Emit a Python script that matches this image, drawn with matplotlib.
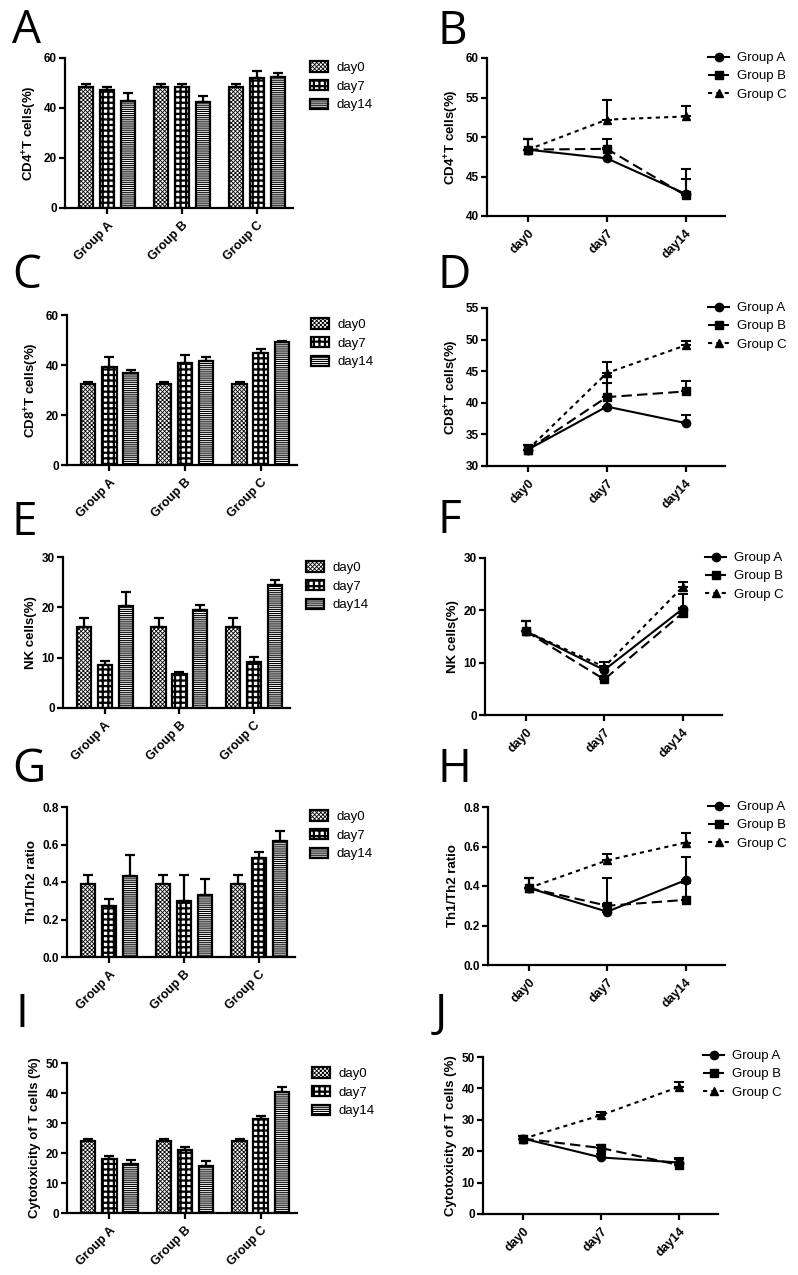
import matplotlib
matplotlib.use("Agg")
from matplotlib import pyplot as plt
import numpy as np

plt.rcParams['font.family'] = ['Liberation Sans', 'DejaVu Sans']
plt.rcParams['mathtext.fontset'] = 'custom'
plt.rcParams['mathtext.bf'] = 'Liberation Sans:bold'
plt.rcParams['mathtext.rm'] = 'Liberation Sans:bold'
plt.rcParams['hatch.linewidth'] = 0.8

groups = ['Group A', 'Group B', 'Group C']
days = ['day0', 'day7', 'day14']

# rows = group A, B, C ; columns = day0, day7, day14
cd4_mean = [[48.4, 47.3, 42.8], [48.4, 48.5, 42.6], [48.4, 52.2, 52.6]]
cd4_err = [[1.4, 1.3, 3.1], [1.4, 1.2, 2.1], [1.4, 2.5, 1.3]]

cd8_mean = [[32.6, 39.4, 36.8], [32.6, 40.9, 41.8], [32.6, 44.7, 49.1]]
cd8_err = [[0.8, 3.8, 1.3], [0.8, 3.3, 1.6], [0.8, 1.8, 0.7]]

nk_mean = [[16.0, 8.6, 20.3], [16.0, 6.8, 19.5], [16.0, 9.2, 24.5]]
nk_err = [[1.9, 0.7, 2.8], [1.9, 0.4, 1.0], [1.9, 1.0, 1.0]]

th_mean = [[0.39, 0.27, 0.43], [0.39, 0.30, 0.33], [0.39, 0.53, 0.62]]
th_err = [[0.05, 0.04, 0.115], [0.05, 0.14, 0.085], [0.05, 0.03, 0.05]]

cyto_mean = [[24.0, 18.0, 16.4], [24.0, 21.0, 15.6], [24.0, 31.5, 40.5]]
cyto_err = [[0.8, 1.1, 1.4], [0.8, 1.1, 1.8], [0.8, 1.0, 1.4]]

W, H = 798, 1275
fig = plt.figure(figsize=(W / 100, H / 100), dpi=100)


def px_axes(x0, y0, x1, y1):
    return fig.add_axes([x0 / W, 1 - y1 / H, (x1 - x0) / W, (y1 - y0) / H])


def style_axes(ax, ylabel, ymin, ymax, ystep, fmt, xlabels):
    for s in ['top', 'right']:
        ax.spines[s].set_visible(False)
    for s in ['left', 'bottom']:
        ax.spines[s].set_linewidth(1.6)
    ticks = np.arange(ymin, ymax + ystep / 2, ystep)
    ax.set_ylim(ymin, ymax)
    ax.set_yticks(ticks)
    ax.set_yticklabels([fmt.format(v) for v in ticks], fontweight='bold', fontsize=8.5)
    ax.set_xticks(range(3))
    ax.set_xticklabels(xlabels, rotation=45, ha='right', rotation_mode='anchor',
                       fontweight='bold', fontsize=9)
    ax.tick_params(width=1.6, length=4, pad=2)
    ax.tick_params(axis='x', pad=4)
    ax.set_ylabel(ylabel, fontweight='bold', fontsize=9.5, labelpad=3)


hatches = ['xxxxxxxx', '+++', '--------']
hatch_lw = [0.6, 1.6, 0.8]


def bar_panel(box, mean, err, ylabel, ymin, ymax, ystep, fmt, leg_xy):
    ax = px_axes(*box)
    mean = np.array(mean)
    err = np.array(err)
    x = np.arange(3)
    for d in range(3):
        bars = ax.bar(x + (d - 1) * 0.28, mean[:, d], width=0.19, facecolor='white',
                      edgecolor='black', linewidth=1.6, hatch=hatches[d], label=days[d], zorder=2)
        for b in bars:
            try:
                b.set_hatch_linewidth(hatch_lw[d])
            except AttributeError:
                pass
        ax.errorbar(x + (d - 1) * 0.28, mean[:, d], yerr=[np.zeros(3), err[:, d]],
                    fmt='none', ecolor='black', elinewidth=1.6, capsize=3.5, capthick=1.6, zorder=3)
    ax.set_xlim(-0.56, 2.48)
    style_axes(ax, ylabel, ymin, ymax, ystep, fmt, groups)
    leg = ax.legend(loc='upper left', bbox_to_anchor=(leg_xy[0] / W, 1 - leg_xy[1] / H),
                    bbox_transform=fig.transFigure, frameon=False, borderaxespad=0, borderpad=0,
                    fontsize=9.5, handlelength=1.4, handleheight=0.85, labelspacing=0.45,
                    handletextpad=0.6)
    for p, lw in zip(leg.get_patches(), hatch_lw):
        try:
            p.set_hatch_linewidth(lw)
        except AttributeError:
            pass
    return ax


markers = ['o', 's', '^']
lstyles = ['-', (0, (5, 2.5)), (0, (2, 2))]


def line_panel(box, mean, err, ylabel, ymin, ymax, ystep, fmt, leg_xy):
    ax = px_axes(*box)
    mean = np.array(mean)
    err = np.array(err)
    x = np.arange(3)
    lines = []
    for g in range(3):
        eb = ax.errorbar(x, mean[g], yerr=[np.zeros(3), err[g]], color='black',
                         marker=markers[g], markersize=6, linestyle=lstyles[g], linewidth=1.5,
                         elinewidth=1.5, capsize=3.5, capthick=1.5, clip_on=False)
        lines.append(eb[0])
    ax.set_xlim(-0.52, 2.5)
    style_axes(ax, ylabel, ymin, ymax, ystep, fmt, days)
    ax.legend(lines, groups, loc='upper left', bbox_to_anchor=(leg_xy[0] / W, 1 - leg_xy[1] / H),
              bbox_transform=fig.transFigure, frameon=False, borderaxespad=0, borderpad=0,
              fontsize=9.5, handlelength=1.6, labelspacing=0.45, handletextpad=0.6)
    return ax


cd4_label = 'CD4$^{\\mathbf{+}}$T cells(%)'
cd8_label = 'CD8$^{\\mathbf{+}}$T cells(%)'

bar_panel((65, 58, 293, 208), cd4_mean, cd4_err, cd4_label, 0, 60, 20, '{:.0f}', (310, 61))
line_panel((487, 58, 725, 216), cd4_mean, cd4_err, cd4_label, 40, 60, 5, '{:.0f}', (708, 52))

bar_panel((67, 315, 297, 465), cd8_mean, cd8_err, cd8_label, 0, 60, 20, '{:.0f}', (311, 318))
line_panel((487, 308, 725, 466), cd8_mean, cd8_err, cd8_label, 30, 55, 5, '{:.0f}', (708, 302))

bar_panel((63, 557, 290, 708), nk_mean, nk_err, 'NK cells(%)', 0, 30, 10, '{:.0f}', (306, 561))
line_panel((485, 558, 722, 715), nk_mean, nk_err, 'NK cells(%)', 0, 30, 10, '{:.0f}', (705, 552))

bar_panel((67, 807, 295, 957), th_mean, th_err, 'Th1/Th2 ratio', 0, 0.8, 0.2, '{:.1f}', (310, 810))
line_panel((488, 807, 725, 965), th_mean, th_err, 'Th1/Th2 ratio', 0, 0.8, 0.2, '{:.1f}', (708, 801))

bar_panel((67, 1063, 297, 1213), cyto_mean, cyto_err, 'Cytotoxicity of T cells (%)', 0, 50, 10, '{:.0f}', (312, 1067))
line_panel((483, 1057, 718, 1214), cyto_mean, cyto_err, 'Cytotoxicity of T cells (%)', 0, 50, 10, '{:.0f}', (703, 1050))

letters = ['A', 'B', 'C', 'D', 'E', 'F', 'G', 'H', 'I', 'J']
letter_pos = [(12, 43), (437, 44), (12, 288), (437, 288), (12, 535),
              (437, 533), (12, 782), (437, 782), (15, 1027), (435, 1027)]
for t, (lx, ly) in zip(letters, letter_pos):
    fig.text(lx / W, 1 - ly / H, t, fontsize=33, family=['Open Sans', 'DejaVu Sans'],
             ha='left', va='baseline')

fig.savefig('out.png', dpi=100, facecolor='white')
